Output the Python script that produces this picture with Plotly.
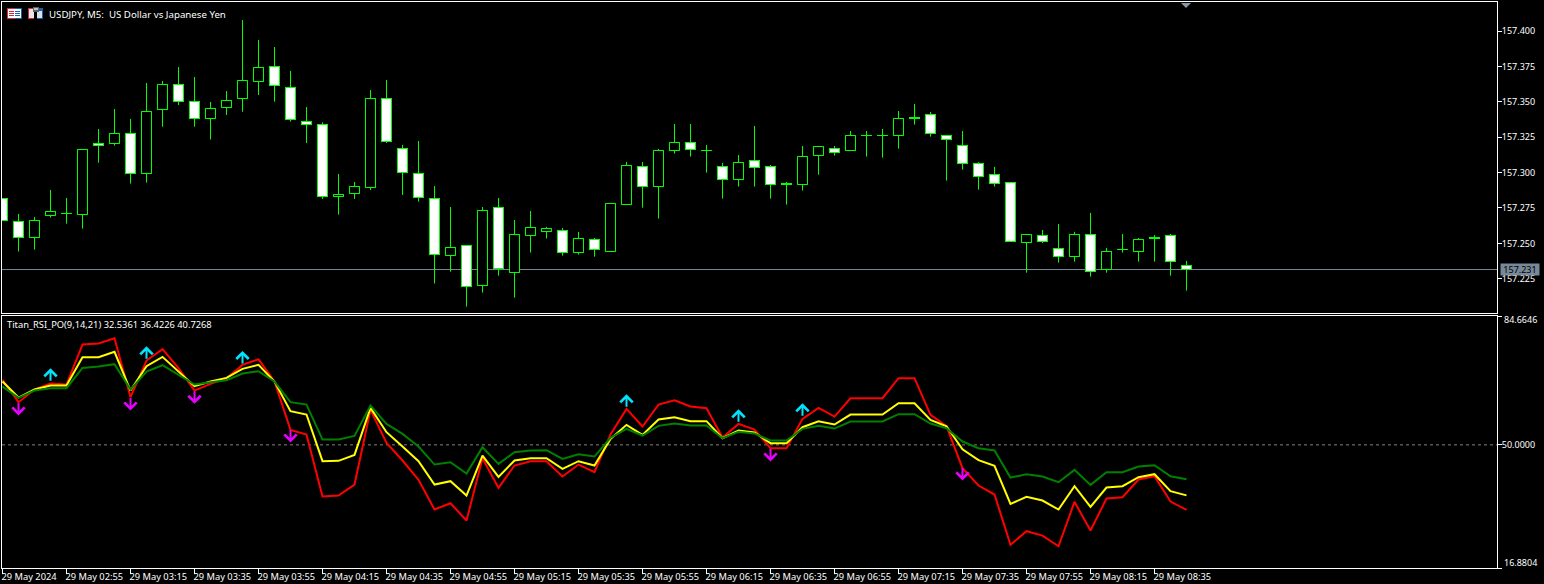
import math
import pandas as pd
import plotly.graph_objects as go

FONT = "Noto Sans"
FS_AXIS = 9.0
FS_TIME = 9.3
FS_CAPTION = 9.7
FS_INDICATOR = 9.3

opens = [157.2818,157.2656,157.2543,157.2698,157.2712,157.2705,157.3207,157.3207,157.3277,157.2995,
         157.3447,157.3623,157.3503,157.3383,157.3461,157.3525,157.3645,157.3751,157.3602,157.3362,
         157.3341,157.2832,157.2854,157.2896,157.3525,157.3171,157.2995,157.2818,157.2416,157.2486,
         157.2204,157.2755,157.2296,157.2557,157.2585,157.2592,157.2437,157.2529,157.2444,157.2776,
         157.3044,157.2903,157.3157,157.3214,157.3157,157.3044,157.2953,157.3087,157.3044,157.2922,
         157.2917,157.3122,157.3171,157.3157,157.3263,157.3263,157.3263,157.3390,157.3412,157.3263,
         157.3193,157.3066,157.2988,157.2931,157.2508,157.2557,157.2465,157.2409,157.2564,157.2317,
         157.2458,157.2444,157.2543,157.2557,157.2345]
highs = [157.2818,157.2708,157.2687,157.2877,157.2821,157.3164,157.3308,157.3449,157.3379,157.3633,
         157.3647,157.3746,157.3675,157.3499,157.3576,157.4078,157.3937,157.3887,157.3718,157.3463,
         157.3355,157.2990,157.2934,157.3583,157.3654,157.3195,157.3223,157.2905,157.2757,157.2486,
         157.2757,157.2821,157.2665,157.2729,157.2616,157.2609,157.2581,157.2538,157.2783,157.3075,
         157.3075,157.3167,157.3343,157.3343,157.3195,157.3068,157.3124,157.3329,157.3054,157.2934,
         157.3188,157.3186,157.3188,157.3294,157.3294,157.3308,157.3435,157.3485,157.3428,157.3263,
         157.3294,157.3073,157.3040,157.2931,157.2564,157.2595,157.2637,157.2581,157.2715,157.2468,
         157.2566,157.2538,157.2559,157.2566,157.2376]
lows = [157.2663,157.2442,157.2456,157.2682,157.2639,157.2604,157.3070,157.3190,157.2922,157.2929,
        157.3324,157.3477,157.3324,157.3233,157.3407,157.3430,157.3548,157.3501,157.3360,157.3209,
        157.2814,157.2703,157.2814,157.2877,157.3209,157.2842,157.2795,157.2216,157.2300,157.2053,
        157.2152,157.2272,157.2117,157.2435,157.2534,157.2413,157.2421,157.2406,157.2444,157.2776,
        157.2752,157.2675,157.3134,157.3113,157.3000,157.2816,157.2901,157.2901,157.2816,157.2774,
        157.2873,157.2985,157.3120,157.3157,157.3113,157.3106,157.3169,157.3339,157.3254,157.2943,
        157.3021,157.2880,157.2901,157.2515,157.2293,157.2503,157.2364,157.2371,157.2265,157.2293,
        157.2435,157.2371,157.2371,157.2272,157.2166]
closes = [157.2663,157.2543,157.2663,157.2727,157.2712,157.3164,157.3193,157.3277,157.2995,157.3433,
          157.3623,157.3503,157.3383,157.3454,157.3510,157.3652,157.3743,157.3616,157.3376,157.3341,
          157.2832,157.2847,157.2903,157.3525,157.3221,157.3002,157.2825,157.2423,157.2472,157.2197,
          157.2734,157.2324,157.2564,157.2614,157.2607,157.2437,157.2536,157.2458,157.2783,157.3051,
          157.2903,157.3157,157.3214,157.3164,157.3157,157.2953,157.3073,157.3037,157.2917,157.2917,
          157.3115,157.3186,157.3143,157.3263,157.3263,157.3263,157.3383,157.3383,157.3277,157.3235,
          157.3066,157.2974,157.2924,157.2515,157.2564,157.2515,157.2409,157.2564,157.2303,157.2444,
          157.2458,157.2529,157.2536,157.2373,157.2317]

rsi_fast = [67.48,61.48,64.88,66.50,66.23,76.99,77.26,78.69,62.82,72.68,
            75.73,70.62,64.61,66.41,67.93,71.52,73.04,67.04,54.03,52.78,
            36.10,36.37,39.33,59.41,50.54,45.79,40.59,32.61,34.31,29.65,
            46.41,38.43,44.44,45.61,45.61,41.48,44.71,42.65,52.78,59.68,
            54.93,60.85,62.01,60.31,59.86,51.97,55.65,54.12,49.10,49.10,
            56.99,59.95,57.62,62.55,62.55,62.55,67.93,67.93,58.07,55.02,
            43.72,39.06,36.64,23.10,26.78,25.61,22.74,34.67,26.96,35.56,
            35.92,40.68,41.57,34.76,32.5361]
rsi_mid = [67.04,62.73,64.88,65.96,65.96,73.58,73.58,75.02,64.61,71.16,
           73.67,69.73,65.78,67.04,68.02,70.44,71.52,67.04,59.06,58.16,
           45.61,45.70,47.31,59.95,53.41,49.55,45.61,39.33,40.23,36.37,
           47.13,41.39,45.79,46.41,46.41,43.54,45.61,44.44,51.61,55.38,
           52.69,56.81,57.44,56.37,56.37,51.79,53.86,53.32,50.45,50.45,
           54.75,56.37,55.47,58.16,58.16,58.16,61.21,61.21,56.72,55.02,
           48.83,45.88,44.35,34.13,36.01,35.03,32.61,38.88,33.32,38.52,
           38.88,41.30,42.11,37.54,36.4226]
rsi_slow = [65.69,62.64,64.61,65.24,65.24,70.71,71.07,71.70,64.88,69.73,
            71.43,68.83,66.23,66.86,67.39,69.19,69.81,67.04,61.48,60.85,
            51.43,51.43,52.42,60.58,55.65,52.96,49.55,44.71,45.34,42.29,
            49.37,44.89,48.03,48.48,48.57,46.23,47.49,46.86,51.88,54.30,
            52.51,55.11,55.74,55.20,55.20,51.79,53.50,53.05,51.17,51.17,
            54.30,55.11,54.39,56.28,56.28,56.28,58.25,58.25,55.74,54.48,
            50.90,49.10,48.48,41.21,42.11,41.48,39.96,43.28,39.24,42.65,
            42.65,44.17,44.53,41.57,40.7268]

up_bars = [3, 9, 15, 39, 46, 50]
up_levels = [70.62, 76.54, 75.28, 63.63, 59.59, 61.21]
down_bars = [1, 8, 12, 18, 48, 60]
down_levels = [57.89, 59.24, 61.03, 50.63, 45.52, 40.41]

time_tick_bars = [0, 4, 8, 12, 16, 20, 24, 28, 32, 36, 40, 44, 48, 52, 56, 60, 64, 68, 72]
time_tick_labels = ["29 May 2024", "29 May 02:55", "29 May 03:15", "29 May 03:35", "29 May 03:55",
                    "29 May 04:15", "29 May 04:35", "29 May 04:55", "29 May 05:15", "29 May 05:35",
                    "29 May 05:55", "29 May 06:15", "29 May 06:35", "29 May 06:55", "29 May 07:15",
                    "29 May 07:35", "29 May 07:55", "29 May 08:15", "29 May 08:35"]
price_ticks = [157.225, 157.250, 157.275, 157.300, 157.325, 157.350, 157.375, 157.400]
price_labels = ["157.225", "157.250", "157.275", "157.300", "157.325", "157.350", "157.375", "157.400"]
current_price = 157.2315
current_price_label = "157.231"
rsi_low, rsi_mid_level, rsi_high = 16.8804, 50.0, 84.6646
price_low, price_high = 157.2008, 157.4205

W, H = 1544, 584
L, R, T, B = 2, 1497, 2, 568
PANE1_BOTTOM, PANE2_TOP = 313, 316

times = pd.date_range("2024-05-29 02:35", periods=len(opens), freq="5min")
bar = pd.Timedelta(minutes=5)
x_start = times[0] - bar * (0.5 / 16)          # half a pixel, so the candle stems are sharp
x_end = x_start + bar * ((R - L) / 16)

def X(px):
    return (px - L) / (R - L)
def Y(py):
    return 1 - (py - T) / (B - T)

# The reference is a pixel-snapped terminal: snap body edges to whole pixel rows.
ppu = (PANE1_BOTTOM - T) / (price_high - price_low)
def snap(v):
    return price_high - (math.floor((price_high - v) * ppu) + 0.5) / ppu
snapped_opens = [snap(v) for v in opens]
snapped_closes = [snap(v) for v in closes]

fig = go.Figure()
fig.add_trace(go.Candlestick(
    x=times, open=snapped_opens, high=highs, low=lows, close=snapped_closes,
    xaxis="x", yaxis="y",
    increasing=dict(line=dict(color="#00FF00", width=1), fillcolor="#000000"),
    decreasing=dict(line=dict(color="#00FF00", width=1), fillcolor="#FFFFFF"),
    whiskerwidth=0, hoverinfo="skip", showlegend=False))
# Candle bodies redrawn on an overlaid axis: a candlestick trace adds an inner close line
# that the reference does not have, and this covers it.
fig.add_trace(go.Bar(
    x=times, y=[abs(c - o) for o, c in zip(snapped_opens, snapped_closes)],
    base=[min(o, c) for o, c in zip(snapped_opens, snapped_closes)],
    width=bar.total_seconds() * 1000 * 10 / 16,
    marker=dict(color=["#FFFFFF" if c < o else "#000000" for o, c in zip(snapped_opens, snapped_closes)],
                line=dict(color="#00FF00", width=1)),
    xaxis="x", yaxis="y3", hoverinfo="skip", showlegend=False))
for vals, col in ((rsi_fast, "#FF0000"), (rsi_mid, "#FFFF00"), (rsi_slow, "#008000")):
    fig.add_trace(go.Scatter(x=times, y=vals, mode="lines", xaxis="x2", yaxis="y2",
                             line=dict(color=col, width=2), hoverinfo="skip", showlegend=False))

font = dict(family=FONT, size=FS_AXIS, color="#FFFFFF")
ann = []
for b, v in zip(up_bars, up_levels):
    ann.append(dict(x=times[b], y=v, xref="x2", yref="y2", text="", showarrow=True, arrowhead=4,
                    arrowsize=1.2, arrowwidth=2, arrowcolor="#00E5FF", ax=0, ay=14))
for b, v in zip(down_bars, down_levels):
    ann.append(dict(x=times[b], y=v, xref="x2", yref="y2", text="", showarrow=True, arrowhead=4,
                    arrowsize=1.2, arrowwidth=2, arrowcolor="#E800FF", ax=0, ay=-14))
ann.append(dict(xref="paper", yref="paper", x=X(48), y=Y(14), text="USDJPY, M5:  US Dollar vs Japanese Yen",
                showarrow=False, xanchor="left", yanchor="middle",
                font=dict(family=FONT, size=FS_CAPTION, color="#FFFFFF"), borderpad=0))
ann.append(dict(xref="paper", yref="paper", x=X(6), y=Y(324), text="Titan_RSI_PO(9,14,21) 32.5361 36.4226 40.7268",
                showarrow=False, xanchor="left", yanchor="middle",
                font=dict(family=FONT, size=FS_INDICATOR, color="#FFFFFF"), borderpad=0))
ann.append(dict(xref="paper", yref="y2", x=X(1503), y=rsi_high, yshift=-4, text="84.6646", showarrow=False,
                xanchor="left", yanchor="middle", font=font, borderpad=0))
ann.append(dict(xref="paper", yref="y2", x=X(1503), y=rsi_low, yshift=6, text="16.8804", showarrow=False,
                xanchor="left", yanchor="middle", font=font, borderpad=0))
ann.append(dict(xref="paper", yref="y", x=X(1500), y=current_price, text=current_price_label, showarrow=False,
                xanchor="left", yanchor="middle", font=dict(family=FONT, size=FS_AXIS, color="#000000"),
                bgcolor="#778899", borderpad=0, width=38, height=11, align="center"))

shapes = [
    dict(type="line", xref="x", yref="y", x0=x_start, x1=x_end, y0=current_price, y1=current_price,
         line=dict(color="#778899", width=1), layer="below"),
    dict(type="line", xref="x2", yref="y2", x0=x_start, x1=x_end, y0=rsi_mid_level, y1=rsi_mid_level,
         line=dict(color="#808080", width=1, dash="3px,3px"), layer="below"),
    dict(type="path", xref="paper", yref="paper",
         path=f"M{X(1181)},{Y(3)} L{X(1191)},{Y(3)} L{X(1186)},{Y(8)} Z",
         fillcolor="#8496A8", line=dict(width=0)),
]
def rect(x0, y0, x1, y1, col):
    shapes.append(dict(type="rect", xref="paper", yref="paper", x0=X(x0), x1=X(x1), y0=Y(y0), y1=Y(y1),
                       fillcolor=col, line=dict(width=0)))
# window icons next to the chart caption
rect(7, 8, 15, 19, "#D8283C"); rect(15, 8, 22, 19, "#1C5FA8"); rect(8, 9, 21, 18, "#FFFFFF")
for yy in (11, 13, 15):
    rect(9, yy, 14, yy + 1, "#D8283C"); rect(15, yy, 20, yy + 1, "#1C5FA8")
rect(28, 8, 35, 19, "#D8283C"); rect(35, 8, 43, 19, "#1C5FA8"); rect(29, 9, 34, 18, "#E8E8E8")
rect(36, 11, 42, 18, "#D8E0EA"); rect(33, 7, 39, 12, "#606060"); rect(34, 8, 38, 10, "#C0C0C0")
rect(34, 12, 37, 19, "#000000")

axis_common = dict(showgrid=False, zeroline=False, showline=True, linecolor="#FFFFFF", linewidth=1, mirror=True,
                   automargin=False)
fig.update_layout(
    width=W, height=H, paper_bgcolor="#000000", plot_bgcolor="rgba(0,0,0,0)",
    margin=dict(l=L, r=W - R, t=T, b=H - B, pad=0, autoexpand=False), showlegend=False, hovermode=False,
    font=font, annotations=ann, shapes=shapes, boxgap=0.375, boxgroupgap=0,
    xaxis=dict(**axis_common, domain=[0, 1], anchor="y", type="date", range=[x_start, x_end],
               rangeslider=dict(visible=False), showticklabels=False, ticks=""),
    xaxis2=dict(**axis_common, domain=[0, 1], anchor="y2", type="date", range=[x_start, x_end],
                tickmode="array", tickvals=[times[i] for i in time_tick_bars], ticktext=time_tick_labels,
                ticks="outside", ticklen=5, tickwidth=1, tickcolor="#FFFFFF", tickangle=0,
                ticklabelposition="outside right", ticklabelshift=-2,
                tickfont=dict(family=FONT, size=FS_TIME, color="#FFFFFF")),
    yaxis=dict(**axis_common, domain=[(B - PANE1_BOTTOM) / (B - T), 1], anchor="x", side="right",
               range=[price_low, price_high], tickmode="array", tickvals=price_ticks, ticktext=price_labels,
               ticks="outside", ticklen=4, tickwidth=1, tickcolor="#FFFFFF", tickfont=font, ticklabelstandoff=-2),
    yaxis2=dict(**axis_common, domain=[0, (B - PANE2_TOP) / (B - T)], anchor="x2", side="right",
                range=[rsi_low, rsi_high], tickmode="array", tickvals=[rsi_low, rsi_mid_level, rsi_high],
                ticktext=["", "50.0000", ""], ticks="outside", ticklen=4, tickwidth=1,
                tickcolor="#FFFFFF", tickfont=font, ticklabelstandoff=-2),
    yaxis3=dict(overlaying="y", anchor="x", side="right", range=[price_low, price_high], visible=False,
                showgrid=False, zeroline=False),
)
fig.write_html("out.html", config=dict(displayModeBar=False),
               post_script="document.body.style.margin='0';document.body.style.background='#000';")
